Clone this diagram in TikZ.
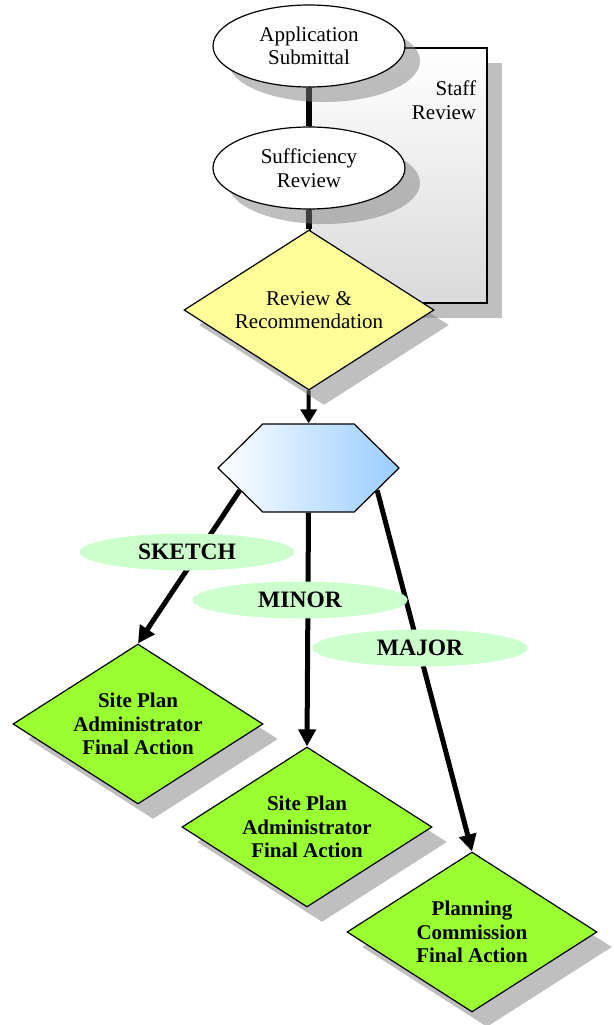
\documentclass[tikz,border=0pt]{standalone}
\usepackage{fontspec}
\setmainfont{Liberation Serif}
\usetikzlibrary{arrows.meta,calc,positioning,shapes.geometric,shapes.symbols,shadows}
\definecolor{StepYellow}{HTML}{FFFF99}
\definecolor{ActionGreen}{HTML}{99FF33}
\definecolor{TrackGreen}{HTML}{CCFFCC}
\definecolor{HubBlue}{HTML}{99CCFF}
\definecolor{BoxGray}{HTML}{DADADA}
\pgfdeclarelayer{back}
\pgfdeclarelayer{mid}
\pgfsetlayers{back,mid,main}

\begin{document}
\begin{tikzpicture}[x=1pt, y=-1pt, >=Triangle,
    castshadow/.style={drop shadow={shadow xshift=15pt, shadow yshift=-15pt}},
    stepoval/.style={ellipse, draw, line width=1.2pt, fill=white, minimum width=192pt,
        minimum height=82pt, inner sep=0pt, align=center,
        font=\fontsize{21}{23.5}\selectfont, castshadow},
    reviewbox/.style={diamond, aspect=1.5625, draw, line width=1.2pt, fill=StepYellow,
        minimum width=250pt, minimum height=160pt, inner sep=0pt, align=center,
        font=\fontsize{21}{23.5}\selectfont, castshadow},
    actionbox/.style={diamond, aspect=1.5625, draw, line width=1.2pt, fill=ActionGreen,
        minimum width=250pt, minimum height=160pt, inner sep=0pt, align=center,
        font=\bfseries\fontsize{21}{23.5}\selectfont, castshadow},
    tag/.style={ellipse, fill=TrackGreen, minimum width=215pt, minimum height=37pt,
        inner sep=0pt, font=\bfseries\fontsize{23.5}{26}\selectfont},
    link/.style={line width=6pt},
    branch/.style={line width=5pt, -{Triangle[length=17pt, width=17pt]}}]
    \useasboundingbox (0,0) rectangle (613,1025);

    % Staff review box
    \begin{pgfonlayer}{back}
        \node[draw, line width=1.2pt, top color=white, bottom color=BoxGray,
            minimum width=177pt, minimum height=255pt, inner sep=0pt, castshadow]
            (staff) at (398.5,175.5) {};
    \end{pgfonlayer}
    \node[align=right, anchor=north east, font=\fontsize{21}{23.5}\selectfont]
        (stafftxt) at ($(staff.north east)+(-8,30)$) {Staff\\Review};

    % Steps
    \node[stepoval] (app) at (309,46) {Application\\Submittal};
    \node[stepoval] (suf) at (309,168) {Sufficiency\\Review};
    \node[reviewbox] (rev) at (309,310) {Review \&\\Recommendation};

    % Decision hub
    \node[signal, signal to=west and east, signal pointer angle=89, draw, line width=1.2pt,
        left color=white, right color=HubBlue, minimum width=181pt, minimum height=88pt,
        inner sep=0pt] (hub) at (308.5,468) {};

    % Final actions
    \node[actionbox] (site1) at (138,724) {Site Plan\\Administrator\\Final Action};
    \node[actionbox] (site2) at (307,827) {Site Plan\\Administrator\\Final Action};
    \node[actionbox] (pc) at (472,932) {Planning\\Commission\\Final Action};

    % Connectors
    \begin{pgfonlayer}{mid}
        \draw[link] (app) -- (suf);
        \draw[link] (suf) -- (rev);
        \draw[line width=4pt, -{Triangle[length=14pt, width=16pt]}] (rev) -- (hub);
        \draw[branch] (hub.-162) -- (site1.north);
        \draw[branch] (hub.south) -- (site2.north);
        \draw[branch] (hub.-18) -- (pc.north);
    \end{pgfonlayer}

    % Track labels
    \node[tag] (sketch) at (187,552) {SKETCH};
    \node[tag] (minor) at (300,600) {MINOR};
    \node[tag] (major) at (420,648) {MAJOR};

\end{tikzpicture}
\end{document}
